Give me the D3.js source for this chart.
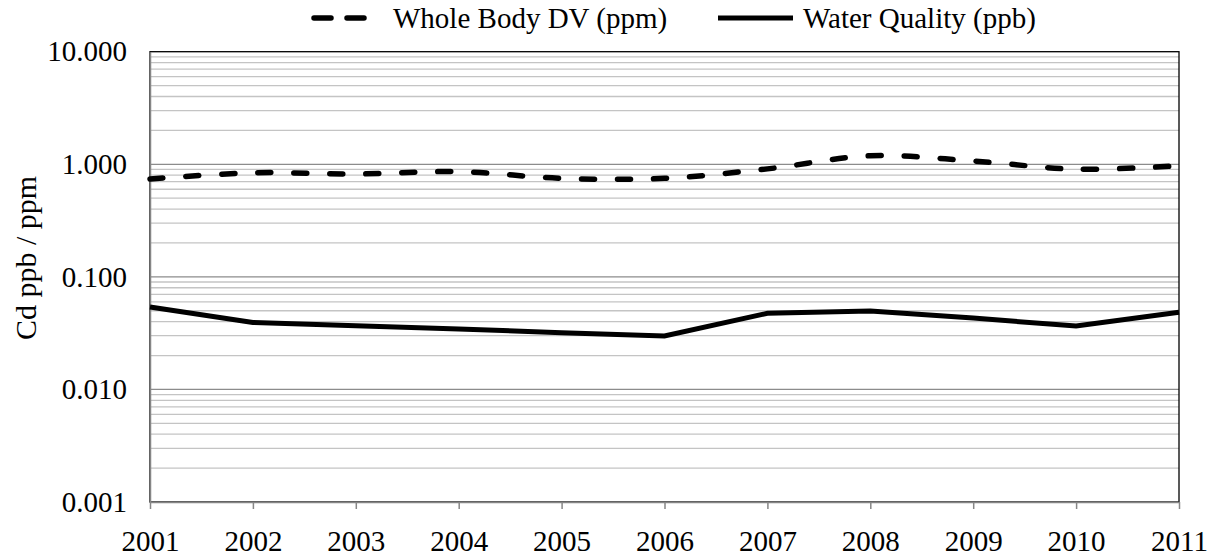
<!DOCTYPE html>
<html>
<head>
<meta charset="utf-8">
<script src="https://cdn.jsdelivr.net/npm/d3@7"></script>
<style>
  body { margin: 0; background: #fff; }
</style>
</head>
<body>
<svg id="chart" width="1216" height="557" style="font-family:'Liberation Serif'"></svg>
<script>
var years = [2001, 2002, 2003, 2004, 2005, 2006, 2007, 2008, 2009, 2010, 2011];
var wholeBody = [0.74, 0.84, 0.82, 0.86, 0.75, 0.75, 0.91, 1.19, 1.07, 0.905, 0.97];
var waterQuality = [0.054, 0.0394, 0.0368, 0.0345, 0.0318, 0.0298, 0.0475, 0.0497, 0.043, 0.0366, 0.0484];
var yTicks = [0.001, 0.01, 0.1, 1, 10];

(function() {
  var svg = d3.select("#chart");
  var serif = "'Liberation Serif'";
  var plotLeft = 150, plotRight = 1179, plotTop = 51.7, plotBottom = 502;

  var x = d3.scalePoint().domain(years).range([plotLeft, plotRight]);
  var y = d3.scaleLog().domain([0.001, 10]).range([plotBottom, plotTop]);

  // minor gridlines 2..9 in each decade
  var minor = [];
  yTicks.slice(0, -1).forEach(function(d) {
    for (var k = 2; k <= 9; k++) minor.push(d * k);
  });

  var grid = svg.append("g");
  grid.selectAll("line.minor")
    .data(minor)
    .enter().append("line")
      .attr("class", "minor")
      .attr("x1", plotLeft).attr("x2", plotRight)
      .attr("y1", function(d) { return y(d); })
      .attr("y2", function(d) { return y(d); })
      .attr("stroke", "#c4c4c4")
      .attr("stroke-width", 1.3);

  grid.selectAll("line.major")
    .data(yTicks.slice(1, -1))
    .enter().append("line")
      .attr("class", "major")
      .attr("x1", plotLeft).attr("x2", plotRight)
      .attr("y1", function(d) { return y(d); })
      .attr("y2", function(d) { return y(d); })
      .attr("stroke", "#8c8c8c")
      .attr("stroke-width", 1.3);

  // plot border
  svg.append("rect")
    .attr("x", plotLeft).attr("y", plotTop)
    .attr("width", plotRight - plotLeft).attr("height", plotBottom - plotTop)
    .attr("fill", "none")
    .attr("stroke", "#000")
    .attr("stroke-width", 1.3);

  // axes
  var yAxis = svg.append("g")
    .attr("transform", "translate(" + plotLeft + ",0)")
    .call(d3.axisLeft(y).tickValues(yTicks).tickFormat(d3.format(".3f")).tickSize(0).tickPadding(23))
    .attr("font-family", "Liberation Serif");
  yAxis.select(".domain").attr("stroke", "#868686").attr("stroke-width", 1.5);
  yAxis.selectAll("text").attr("font-size", "29px").style("font-family", serif).attr("fill", "#000");

  var xAxis = svg.append("g")
    .attr("transform", "translate(0," + plotBottom + ")")
    .call(d3.axisBottom(x).tickSize(7).tickPadding(21).tickSizeOuter(0))
    .attr("font-family", "Liberation Serif");
  xAxis.select(".domain").attr("stroke", "#868686").attr("stroke-width", 1.5);
  xAxis.selectAll(".tick line").attr("stroke", "#868686").attr("stroke-width", 1.5);
  xAxis.selectAll("text").attr("font-size", "29px").style("font-family", serif).attr("fill", "#000");

  // series
  var smooth = d3.line()
    .x(function(d, i) { return x(years[i]); })
    .y(function(d) { return y(d); })
    .curve(d3.curveCardinal.tension(0));

  var straight = d3.line()
    .x(function(d, i) { return x(years[i]); })
    .y(function(d) { return y(d); });

  svg.append("path")
    .attr("d", straight(waterQuality))
    .attr("fill", "none")
    .attr("stroke", "#000")
    .attr("stroke-width", 5);

  svg.append("path")
    .attr("d", smooth(wholeBody))
    .attr("fill", "none")
    .attr("stroke", "#000")
    .attr("stroke-width", 5.5)
    .attr("stroke-linecap", "round")
    .attr("stroke-dasharray", "13,23");

  // y title
  svg.append("text")
    .attr("transform", "translate(36,258) rotate(-90)")
    .attr("text-anchor", "middle")
    .attr("font-size", "30px")
    .style("font-family", serif)
    .text("Cd ppb / ppm");

  // legend
  var legend = svg.append("g");
  legend.append("line")
    .attr("x1", 314).attr("x2", 366).attr("y1", 18).attr("y2", 18)
    .attr("stroke", "#000").attr("stroke-width", 5.5)
    .attr("stroke-linecap", "round")
    .attr("stroke-dasharray", "17,16");
  legend.append("text")
    .attr("x", 393).attr("y", 28)
    .attr("font-size", "29px")
    .style("font-family", serif)
    .text("Whole Body DV (ppm)");
  legend.append("line")
    .attr("x1", 718).attr("x2", 793).attr("y1", 18).attr("y2", 18)
    .attr("stroke", "#000").attr("stroke-width", 5);
  legend.append("text")
    .attr("x", 803).attr("y", 28)
    .attr("font-size", "29px")
    .style("font-family", serif)
    .text("Water Quality (ppb)");
})();
</script>
</body>
</html>
